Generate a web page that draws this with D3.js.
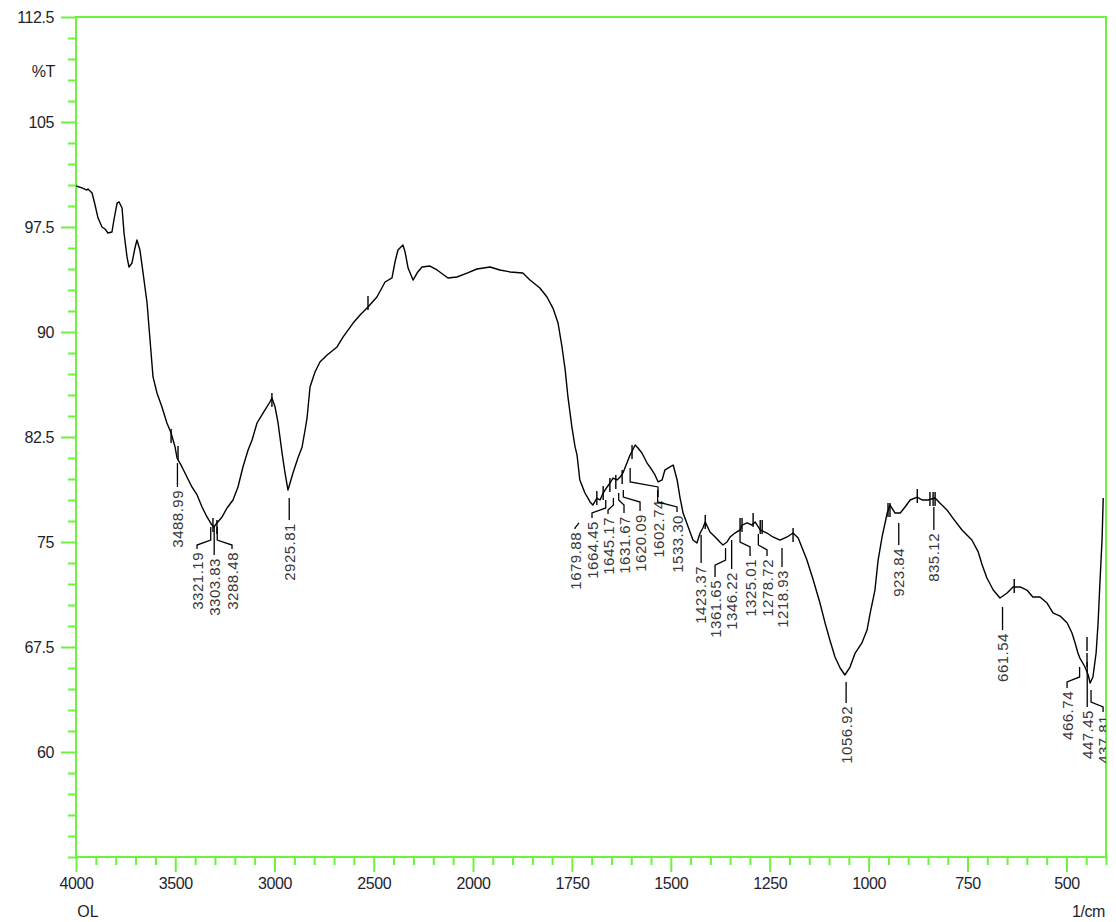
<!DOCTYPE html>
<html><head><meta charset="utf-8">
<script src="https://cdn.jsdelivr.net/npm/d3@7/dist/d3.min.js"></script>
<style>
html,body{margin:0;padding:0;background:#fff;}
svg{display:block;}
</style></head><body>
<svg id="chart" width="1116" height="922"></svg>
<script>
// ---------- data ----------
const wavenumber = [4000,3970,3945,3940,3919,3904,3889,3869,3854,3839,
3819,3809,3793,3783,3768,3758,3743,3733,3718,3703,
3693,3678,3662,3642,3627,3612,3592,3567,3542,3521,
3501,3491,3466,3441,3416,3390,3365,3340,3315,3305,
3290,3264,3239,3209,3184,3159,3133,3113,3088,3058,
3023,3013,2997,2982,2962,2947,2932,2907,2882,2861,
2846,2836,2821,2796,2771,2735,2685,2655,2604,2569,
2529,2484,2443,2408,2393,2378,2353,2342,2327,2302,
2282,2257,2217,2181,2126,2081,2030,1990,1957,1932,
1906,1874,1856,1831,1813,1798,1785,1775,1767,1760,
1750,1742,1737,1730,1717,1704,1697,1687,1679,1671,
1661,1654,1646,1636,1628,1621,1611,1603,1590,1583,
1573,1560,1553,1540,1532,1522,1515,1502,1494,1484,
1477,1469,1456,1444,1434,1426,1419,1413,1401,1388,
1376,1368,1358,1350,1338,1325,1320,1307,1295,1287,
1274,1257,1242,1224,1206,1191,1178,1166,1156,1140,
1123,1110,1098,1085,1072,1060,1047,1034,1017,1004,
996,984,976,966,953,946,933,920,908,895,
877,865,850,832,820,802,787,764,739,723,
713,701,685,668,650,635,617,600,585,567,
549,534,516,498,486,478,471,466,453,445,
440,433,425,420,415,410,407];

const transmittance = [100.43,100.29,100.14,100.21,99.93,99.07,98.14,97.5,97.36,97.07,
97.14,98.0,99.21,99.29,98.86,97.07,95.36,94.64,94.93,96.0,
96.57,95.86,94.21,92.07,89.43,86.79,85.64,84.64,83.5,82.79,
81.79,81.0,80.36,79.64,78.93,78.36,77.5,76.79,76.21,76.07,
76.36,76.79,77.43,78.0,78.93,80.36,81.57,82.29,83.5,84.21,
85.0,85.29,84.64,83.5,81.36,79.93,78.71,79.93,81.0,81.79,
83.0,83.86,86.07,87.14,87.86,88.36,88.93,89.64,90.64,91.21,
91.79,92.5,93.57,93.86,95.0,95.86,96.21,95.71,94.57,93.71,
94.21,94.64,94.71,94.43,93.86,93.93,94.21,94.5,94.64,94.43,
94.29,94.21,93.71,93.14,92.5,91.71,90.64,88.93,87.29,85.36,
83.21,81.79,81.21,79.43,78.5,77.86,77.64,78.14,78.0,78.5,
78.93,79.21,79.57,79.43,79.64,79.93,80.64,81.21,81.93,81.71,
81.36,80.64,80.36,79.79,79.29,79.43,80.14,80.36,80.5,79.43,
78.21,77.07,76.07,75.14,74.93,75.64,76.0,76.43,75.71,75.36,
75.0,74.79,75.0,75.36,75.64,75.86,76.21,76.36,76.21,76.43,
75.86,75.64,75.36,75.14,75.36,75.64,75.29,74.43,73.71,72.29,
70.64,69.21,68.0,66.79,66.0,65.5,66.07,67.07,67.79,68.71,
69.93,71.57,73.71,75.36,77.07,77.64,77.07,77.07,77.5,78.0,
78.21,78.0,78.0,78.14,77.79,77.29,76.71,75.86,75.14,74.29,
73.36,72.43,71.57,71.0,71.36,71.79,71.79,71.57,71.07,71.07,
70.64,69.93,69.71,69.21,68.5,67.79,67.07,66.71,66.07,65.5,
64.93,65.36,67.07,69.21,72.29,75.14,78.14];

// peak labels
const peakText = ["3488.99","3321.19","3303.83","3288.48","2925.81","1679.88","1664.45","1645.17","1631.67","1620.09","1602.74","1533.30","1423.37","1361.65","1346.22","1325.01","1278.72","1218.93","1056.92","923.84","835.12","661.54","466.74","447.45","437.81"];
const leaderFromWn = [3488.99,3321.19,3303.83,3288.48,2925.81,1732,1664.45,1645.17,1631.67,1620.09,1602.74,1533.30,1423.37,1361.65,1346.22,1325.01,1278.72,1218.93,1056.92,923.84,835.12,661.54,466.74,447.45,437.81];
const labelAtWn = [3488.99,3390.4,3303.83,3214.1,2925.81,1742.1,1699.2,1658.7,1618.3,1577.8,1532.3,1484.3,1426.1,1388.2,1346.22,1299.7,1256.8,1218.93,1056.92,923.84,835.12,661.54,498.4,447.45,407.4];
const leaderTopT = [80.64,76.07,76.07,76.07,78.14,76.36,78.0,78.14,78.5,78.71,80.29,78.71,75.5,74.57,75.14,75.71,75.57,74.57,65.0,76.36,77.5,70.36,66.07,66.43,64.43];
const leaderBendT = [80.64,75.14,76.07,75.14,78.14,76.36,77.43,77.64,78.0,78.21,79.29,77.86,75.0,73.71,75.14,75.0,74.79,74.57,65.0,76.36,77.5,70.36,65.36,66.43,63.57];
const leaderEndT = [78.93,74.5,74.07,74.5,76.57,75.93,76.71,77.0,77.07,77.21,78.21,77.14,73.5,72.5,73.07,74.0,74.0,73.21,63.5,74.79,75.86,68.71,64.57,63.21,62.86];

// small peak marks on the trace
const markWn = [3521,3486,3310,3290,3013,2529,1687,1671,1654,1639,1623,1598,1413,1325,1320,1292,1274,1269,1191,951,946,877,845,837,832,632,448,448];
const markT  = [82.57,81.36,76.21,76.07,85.14,92.07,78.14,78.5,79.07,79.29,79.64,81.43,76.43,76.21,76.21,76.57,76.07,76.07,75.5,77.29,77.29,78.29,78.07,78.07,78.07,71.86,67.71,66.57];

// axis ticks
const xTickValues = [4000,3500,3000,2500,2000,1750,1500,1250,1000,750,500];
const xTickLabels = ["4000","3500","3000","2500","2000","1750","1500","1250","1000","750","500"];
const yTickValues = [112.5,105,97.5,90,82.5,75,67.5,60];
const yTickLabels = ["112.5","105","97.5","90","82.5","75","67.5","60"];

// ---------- drawing ----------
const svg = d3.select("#chart");
const L = 76, R = 1106, T0 = 17, B = 857;
const green = "#6cf23c";
const x = d3.scaleLinear().domain([4000, 2000, 400]).range([L, 473, R]);
const y = d3.scaleLinear().domain([52.5, 112.5]).range([B, T0]);

svg.append("defs").append("clipPath").attr("id","plotclip")
  .append("rect").attr("x", L).attr("y", T0).attr("width", R - L).attr("height", B - T0);

const xMinor = d3.range(4000, 2000, -100).concat(d3.range(2000, 399, -50)).filter(v => !xTickValues.includes(v));
const yMinor = d3.range(52.5, 112.6, 1.5).filter(v => !yTickValues.some(t => Math.abs(t - v) < 1e-6));

function styleAxis(g) {
  g.select(".domain").remove();
  g.selectAll(".tick line").attr("stroke", green).attr("stroke-width", 2);
  g.selectAll(".tick text").attr("fill", "#1e1e2e")
    .style("font-family", "'Liberation Sans', Arial, sans-serif")
    .style("font-size", "16px").style("letter-spacing", "-0.4px");
}

// x axis
svg.append("g").attr("transform", `translate(0,${B})`)
  .call(d3.axisBottom(x).tickValues(xMinor).tickSize(8).tickFormat(""))
  .call(styleAxis);
svg.append("g").attr("transform", `translate(0,${B})`)
  .call(d3.axisBottom(x).tickValues(xTickValues).tickSize(15).tickPadding(6)
    .tickFormat((d, i) => xTickLabels[i]))
  .call(styleAxis);

// y axis
svg.append("g").attr("transform", `translate(${L},0)`)
  .call(d3.axisLeft(y).tickValues(yMinor).tickSize(8).tickFormat(""))
  .call(styleAxis);
svg.append("g").attr("transform", `translate(${L},0)`)
  .call(d3.axisLeft(y).tickValues(yTickValues).tickSize(15).tickPadding(7)
    .tickFormat((d, i) => yTickLabels[i]))
  .call(styleAxis);

// frame
svg.append("rect").attr("x", L).attr("y", T0).attr("width", R - L).attr("height", B - T0)
  .attr("fill", "none").attr("stroke", green).attr("stroke-width", 2);

// axis titles
const fontFam = "'Liberation Sans', Arial, sans-serif";
svg.append("text").attr("x", 55).attr("y", y(108.6)).attr("text-anchor", "end")
  .attr("dominant-baseline", "central").attr("fill", "#1e1e2e")
  .style("font-family", fontFam).style("font-size", "16px").style("letter-spacing","-0.4px").text("%T");
svg.append("text").attr("x", 88).attr("y", 917).attr("text-anchor", "middle")
  .attr("fill", "#1e1e2e").style("font-family", fontFam).style("font-size", "16px").text("OL");
svg.append("text").attr("x", 1105).attr("y", 917).attr("text-anchor", "end")
  .attr("fill", "#1e1e2e").style("font-family", fontFam).style("font-size", "16px").style("letter-spacing","-0.4px").text("1/cm");

const plot = svg.append("g").attr("clip-path", "url(#plotclip)");

// spectrum
const pts = wavenumber.map((w, i) => [w, transmittance[i]]);
plot.append("path").datum(pts)
  .attr("d", d3.line().x(d => x(d[0])).y(d => y(d[1])))
  .attr("fill", "none").attr("stroke", "#000").attr("stroke-width", 1.4)
  .attr("stroke-linejoin", "round");

// peak marks
plot.selectAll("line.mark").data(markWn).enter().append("line")
  .attr("class", "mark")
  .attr("x1", d => x(d)).attr("x2", d => x(d))
  .attr("y1", (d, i) => y(markT[i]) - 7).attr("y2", (d, i) => y(markT[i]) + 7)
  .attr("stroke", "#000").attr("stroke-width", 1.4);

// leaders
const leaderLine = d3.line();
peakText.forEach((t, i) => {
  const fx = x(leaderFromWn[i]), lx = x(labelAtWn[i]);
  const yt = y(leaderTopT[i]), yb = y(leaderBendT[i]), ye = y(leaderEndT[i]);
  const bent = Math.abs(fx - lx) > 1.5;
  const p = bent ? [[fx, yt], [fx, yb], [lx, Math.min(yb + 5, ye)], [lx, ye]] : [[fx, yt], [fx, ye]];
  plot.append("path").attr("d", leaderLine(p)).attr("fill", "none")
    .attr("stroke", "#000").attr("stroke-width", 1.3);
  plot.append("text")
    .attr("transform", `translate(${lx},${ye + 3}) rotate(-90)`)
    .attr("text-anchor", "end").attr("dominant-baseline", "central")
    .attr("fill", "#383838")
    .style("font-family", fontFam).style("font-size", "15px").style("letter-spacing", "0.5px")
    .text(t);
});
</script>
</body></html>
